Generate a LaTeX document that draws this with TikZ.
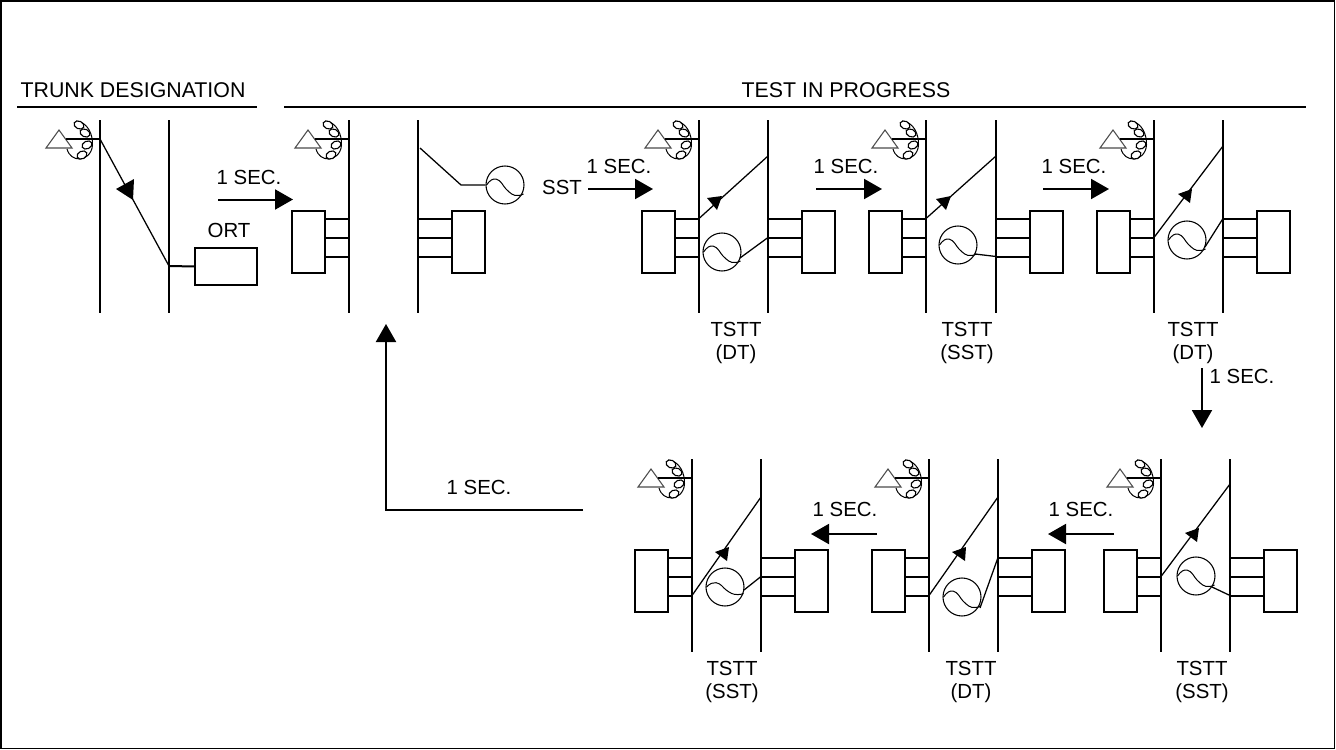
\documentclass[tikz,border=0pt]{standalone}
\usepackage{fontspec}
\setmainfont{Liberation Sans}
\usetikzlibrary{arrows.meta}
\tikzset{
  heavy/.style={line width=1.5pt,line cap=butt},
  thinl/.style={line width=0.95pt},
  circ/.style={draw,circle,line width=0.8pt,minimum size=28.5pt,inner sep=0pt,fill=none},
  wave/.style={line width=0.75pt},
  termbox/.style={draw,rectangle,line width=1.5pt,minimum width=24.75pt,minimum height=46.5pt,inner sep=0pt,outer sep=0pt},
  ortbox/.style={draw,rectangle,line width=1.5pt,minimum width=46.5pt,minimum height=27.75pt,inner sep=0pt,outer sep=0pt},
  lbl/.style={inner sep=0pt,font=\fontsize{15.3}{17}\selectfont,text=black},
  hdr/.style={inner sep=0pt,font=\fontsize{16}{17}\selectfont,text=black},
  tsttlbl/.style={lbl,anchor=base},
  bigarrow/.style={line width=1.5pt,-{Triangle[length=13.5pt,width=15pt]}},
}
% phone symbol: #1 name, #2 left line x, #3 top y
\newcommand{\phoneset}[3]{%
  \begin{scope}[shift={(#2,#3)}]
    \coordinate (#1-ph) at (-34,19);
    \coordinate (#1-li) at (0,19);
    \draw[line width=0.8pt,draw=black!70] (-41,10) -- (-54,28) -- (-28,28) -- cycle;
    \draw[line width=0.75pt] (-24,1) .. controls (-12,2) and (-7,15) .. (-7.5,25)
       .. controls (-8,34) and (-15,39) .. (-20,39) .. controls (-26,39) and (-31,36) .. (-33,29);
    \foreach \ex/\ey/\ea in {-21/5/-25, -15/13/-25, -13/25/25, -18/35/25}
      \draw[line width=0.85pt,fill=white,rotate around={\ea:(\ex,\ey)}] (\ex,\ey) ellipse (5.2 and 3.8);
    \draw[line width=1.2pt] (#1-ph) -- (#1-li);
  \end{scope}}
% lines and boxes: #1 name, #2 left x, #3 right x, #4 top y
\newcommand{\rack}[4]{%
  \coordinate (#1-lt) at (#2,#4); \coordinate (#1-lb) at (#2,#4+193);
  \coordinate (#1-rt) at (#3,#4); \coordinate (#1-rb) at (#3,#4+193);
  \draw[heavy] (#1-lt) -- (#1-lb);
  \draw[heavy] (#1-rt) -- (#1-rb);
  \node[termbox] (#1-bl) at (#2-40.5,#4+122) {};
  \node[termbox] (#1-br) at (#3+50.5,#4+122) {};
  \foreach \k/\d in {a/98.5,b/117.5,c/136.5}{
    \coordinate (#1-l\k) at (#2,#4+\d);
    \coordinate (#1-r\k) at (#3,#4+\d);
    \draw[heavy] (#1-l\k) -- (#1-l\k -| #1-bl.east);
    \draw[heavy] (#1-r\k) -- (#1-r\k -| #1-br.west);
  }
  \phoneset{#1}{#2}{#4}}
% tone: #1 name, #2 x, #3 y, #4 wave y-scale
\newcommand{\tone}[4]{%
  \node[circ] (#1-t) at (#2,#3) {};
  \begin{scope}[shift={(#2,#3)},yscale=#4]
    \draw[wave] (-18.5,0) .. controls (-15,-5) and (-12,-6.5) .. (-9,-6)
      .. controls (-4,-5) and (-2,1) .. (1,4) .. controls (5,8) and (8,11) .. (13,10.5)
      .. controls (15,10.5) and (17,10) .. (18.5,9);
  \end{scope}}
% arrowhead triangle on a switch line
\newcommand{\swhead}[6]{\fill (#1,#2) -- (#3,#4) -- (#5,#6) -- cycle;}
\newcommand{\rsec}[4]{\coordinate (#1-s) at (#2,#4); \coordinate (#1-e) at (#3,#4);
  \draw[bigarrow] (#1-s) -- (#1-e);}
\begin{document}
\begin{tikzpicture}[x=0.75pt,y=-0.75pt]
\useasboundingbox (0,0) rectangle (1336,750);
\draw[heavy,line width=1.3pt] (1,1) rectangle (1334.5,748.5);
% headers
\node[hdr] (h1) at (133,90) {TRUNK DESIGNATION};
\node[hdr] (h2) at (846,90) {TEST IN PROGRESS};
\coordinate (h1a) at (17,107); \coordinate (h1b) at (257,107);
\coordinate (h2a) at (284,107); \coordinate (h2b) at (1306,107);
\draw[heavy] (h1a) -- (h1b);
\draw[heavy] (h2a) -- (h2b);
% panel 1
\coordinate (p-lt) at (100,120); \coordinate (p-lb) at (100,313);
\coordinate (p-rt) at (169,120); \coordinate (p-rb) at (169,313);
\draw[heavy] (p-lt) -- (p-lb);
\draw[heavy] (p-rt) -- (p-rb);
\phoneset{p}{100}{120}
\node[ortbox] (ort) at (226,266.5) {};
\node[lbl] (ortl) at (229,230) {ORT};
\coordinate (p-w) at (169,266);
\draw[thinl] (p-li) -- (p-w);
\draw[heavy] (p-w) -- (ort.west);
\swhead{134}{179}{116}{189}{133}{200}
% arrow 1
\rsec{a1}{218}{293}{199.5}
\node[lbl] (a1t) at (249,177) {1 SEC.};
% panel 2
\rack{q}{349}{418}{120}
\tone{q}{505}{185}{1}
\coordinate (q-sw) at (420,148); \coordinate (q-k) at (461,185);
\draw[thinl] (q-sw) -- (q-k) -- (q-t.west);
\node[lbl] (sst) at (562,187) {SST};
\rsec{a2}{588}{653}{189}
\node[lbl] (a2t) at (619,166) {1 SEC.};
% panel 3
\rack{c}{699}{768}{120}
\tone{c}{722}{252}{1}
\coordinate (c-u) at (768,156);
\draw[thinl] (c-la) -- (c-u);
\draw[thinl] (c-t) ++(18,6) -- (c-rb);
\swhead{707}{198}{722}{196}{717}{210}
\node[tsttlbl] (c-l) at (736,336) {TSTT};
\node[tsttlbl] (c-m) at (736,359) {(DT)};
\rsec{a3}{816}{882}{189}
\node[lbl] (a3t) at (846,166) {1 SEC.};
% panel 4
\rack{d}{926}{996}{120}
\tone{d}{958}{245}{1}
\coordinate (d-u) at (996,156);
\draw[thinl] (d-la) -- (d-u);
\draw[thinl] (d-t) ++(17,9) -- (d-rc);
\swhead{936}{199}{951}{196}{946}{210}
\node[tsttlbl] (d-l) at (967,336) {TSTT};
\node[tsttlbl] (d-m) at (967,359) {(SST)};
\rsec{a4}{1043}{1109}{189}
\node[lbl] (a4t) at (1074,166) {1 SEC.};
% panel 5
\rack{e}{1154}{1223}{120}
\tone{e}{1187}{240}{1}
\coordinate (e-u) at (1223,146);
\draw[thinl] (e-u) -- (e-lb);
\draw[thinl] (e-t) ++(18,7) -- (e-ra);
\swhead{1178}{194}{1192}{189}{1190}{203}
\node[tsttlbl] (e-l) at (1193,336) {TSTT};
\node[tsttlbl] (e-m) at (1193,359) {(DT)};
\coordinate (a5-s) at (1202,368); \coordinate (a5-e) at (1202,428);
\draw[bigarrow] (a5-s) -- (a5-e);
\node[lbl] (a5t) at (1242,376) {1 SEC.};
% bottom row
\rack{f}{692}{761}{459}
\tone{f}{725}{587}{0.72}
\coordinate (f-u) at (761,497);
\draw[thinl] (f-lc) -- (f-u);
\draw[thinl] (f-t) ++(19,3) -- (f-rb);
\swhead{715}{552}{729}{547}{727}{561}
\node[tsttlbl] (f-l) at (732,675) {TSTT};
\node[tsttlbl] (f-m) at (732,698) {(SST)};
\rack{g}{929}{998}{459}
\tone{g}{962}{597}{1}
\coordinate (g-u) at (998,497);
\draw[thinl] (g-lc) -- (g-u);
\draw[thinl] (g-t) ++(18,11) -- (g-ra);
\swhead{952}{552}{966}{547}{965}{561}
\node[tsttlbl] (g-l) at (971,675) {TSTT};
\node[tsttlbl] (g-m) at (971,698) {(DT)};
\rack{k}{1161}{1230}{459}
\tone{k}{1196}{576}{1}
\coordinate (k-u) at (1230,484);
\draw[thinl] (k-lb) -- (k-u);
\draw[thinl] (k-t) ++(16,11) -- (k-rc);
\swhead{1185}{533}{1199}{528}{1197}{542}
\node[tsttlbl] (k-l) at (1202,675) {TSTT};
\node[tsttlbl] (k-m) at (1202,698) {(SST)};
% bottom arrows
\rsec{a6}{1114}{1048}{534}
\node[lbl] (a6t) at (1081,509) {1 SEC.};
\rsec{a7}{877}{811}{534}
\node[lbl] (a7t) at (845,509) {1 SEC.};
\coordinate (b-s) at (583,510); \coordinate (b-c) at (386,510); \coordinate (b-e) at (386,324);
\draw[bigarrow] (b-s) -- (b-c) -- (b-e);
\node[lbl] (bt) at (479,487) {1 SEC.};
\end{tikzpicture}
\end{document}
